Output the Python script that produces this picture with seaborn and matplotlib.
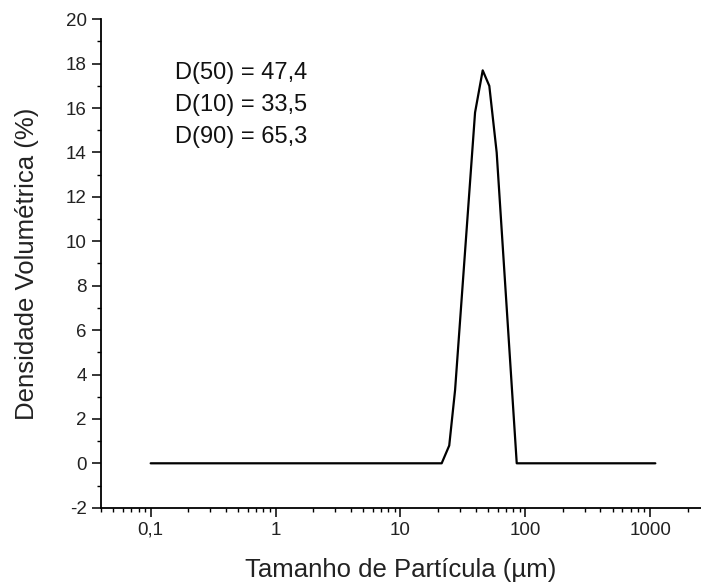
import matplotlib
matplotlib.use("Agg")
import matplotlib.pyplot as plt
import matplotlib.ticker as mticker
import seaborn as sns
import pandas as pd

# ---- data ----
size_um = [0.1, 21.4, 24.6, 27.4, 39.6, 45.6, 51.5, 59.0, 85.4, 1100]
volume_pct = [0, 0, 0.8, 3.3, 15.8, 17.7, 17.0, 14.0, 0, 0]

x_tick_values = [0.1, 1, 10, 100, 1000]
x_tick_labels = ["0,1", "1", "10", "100", "1000"]
y_tick_values = list(range(-2, 21, 2))

stats_text = ["D(50) = 47,4", "D(10) = 33,5", "D(90) = 65,3"]

xlabel = "Tamanho de Partícula (µm)"
ylabel = "Densidade Volumétrica (%)"

# ---- style ----
sns.set_style("ticks")
plt.rcParams["font.family"] = ["Liberation Sans", "DejaVu Sans"]

W, H = 701, 587
fig = plt.figure(figsize=(W / 100, H / 100), dpi=100)
ax_left, ax_right = 100.7, 701
ax_top, ax_bottom = 19.3, 507.7
ax = fig.add_axes([ax_left / W, 1 - ax_bottom / H,
                   (ax_right - ax_left) / W, (ax_bottom - ax_top) / H])

df = pd.DataFrame({"size": size_um, "vol": volume_pct})
sns.lineplot(data=df, x="size", y="vol", ax=ax, color="black",
             linewidth=1.6, estimator=None, sort=False)

ax.set_xscale("log")
ax.set_xlim(0.0398, 2553)
ax.set_ylim(-2, 20)

ax.xaxis.set_major_locator(mticker.FixedLocator(x_tick_values))
ax.xaxis.set_major_formatter(mticker.FixedFormatter(x_tick_labels))
ax.xaxis.set_minor_locator(mticker.LogLocator(base=10, subs=[2, 3, 4, 5, 6, 7, 8, 9], numticks=20))
ax.xaxis.set_minor_formatter(mticker.NullFormatter())

ax.set_yticks(y_tick_values)
ax.set_yticklabels([str(v) for v in y_tick_values])
ax.yaxis.set_minor_locator(mticker.MultipleLocator(1))

ax.tick_params(axis="both", which="major", direction="out", length=6.5,
               width=1.1, labelsize=13.5, color="black", labelcolor="#222222", pad=3.5)
ax.tick_params(axis="both", which="minor", direction="out", length=3.2,
               width=1.0, color="black")

for s in ["top", "right"]:
    ax.spines[s].set_visible(False)
for s in ["left", "bottom"]:
    ax.spines[s].set_linewidth(1.3)
    ax.spines[s].set_color("black")

ax_w = ax_right - ax_left
ax_h = ax_bottom - ax_top
ax.set_xlabel(xlabel, fontsize=18.5, color="#222222")
ax.set_ylabel(ylabel, fontsize=18.5, color="#222222")
ax.xaxis.label.set_va("center")
ax.yaxis.label.set_va("center")
ax.xaxis.set_label_coords(0.5, (ax_bottom - 570) / ax_h)
ax.yaxis.set_label_coords((27 - ax_left) / ax_w, 0.5 + (ax_bottom - ax_top - 2 * (ax_bottom - 258)) / (2 * ax_h) * 0 )

for i, t in enumerate(stats_text):
    fig.text(175 / W, 1 - (73 + 32 * i) / H, t, fontsize=17,
             va="center", ha="left", color="#111111")

fig.savefig("out.png", dpi=100)
